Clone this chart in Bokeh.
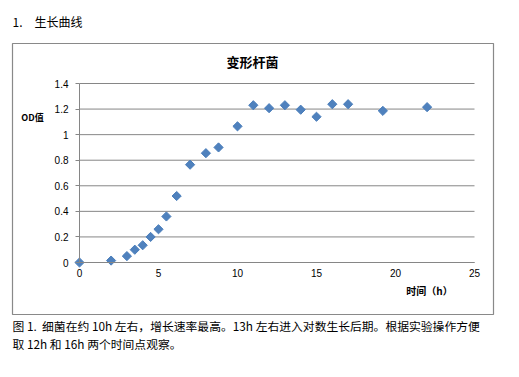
from bokeh.plotting import figure
from bokeh.models import (Range1d, FixedTicker, NumeralTickFormatter, Label, Title,
                          ColumnDataSource)
from bokeh.embed import file_html
from bokeh.resources import INLINE

# ---- data ----
time_h = [0, 2, 3, 3.5, 4, 4.5, 5, 5.5, 6.15, 7, 8, 8.8, 10, 11, 12, 13, 14, 15, 16, 17, 19.2, 22]
od = [0.0, 0.015, 0.05, 0.10, 0.135, 0.20, 0.26, 0.36, 0.52, 0.765, 0.855, 0.90, 1.065,
      1.23, 1.207, 1.23, 1.195, 1.14, 1.238, 1.238, 1.186, 1.215]
x_ticks = [0, 5, 10, 15, 20, 25]
y_ticks = [0, 0.2, 0.4, 0.6, 0.8, 1.0, 1.2, 1.4]
heading = "1.\u3000生长曲线"
chart_title = "变形杆菌"
y_label = "OD值"
x_label = "时间（h）"
caption1 = "图 1.\u00a0\u00a0细菌在约 10h 左右，增长速率最高。13h 左右进入对数生长后期。根据实验操作方便"
caption2 = "取 12h 和 16h 两个时间点观察。"

XMIN, XMAX = x_ticks[0], x_ticks[-1]
YMIN, YMAX = y_ticks[0], y_ticks[-1]

# layout in pixels: chart box and plot area
W, H = 519, 377
BOX_L, BOX_R, BOX_T, BOX_B = 12, 493, 43, 314
PA_L, PA_R, PA_T, PA_B = 79, 474, 83, 262
kx = (PA_R - PA_L) / (XMAX - XMIN)
ky = (PA_B - PA_T) / (YMAX - YMIN)
x_range = Range1d(XMIN - (PA_L - BOX_L) / kx, XMAX + (BOX_R - PA_R) / kx)
y_range = Range1d(YMIN - (BOX_B - PA_B) / ky, YMAX + (PA_T - BOX_T) / ky)

p = figure(width=W, height=H, output_backend="svg", toolbar_location=None,
           x_range=x_range, y_range=y_range,
           min_border_left=BOX_L, min_border_right=W - BOX_R,
           min_border_top=BOX_T, min_border_bottom=H - BOX_B)
p.outline_line_color = "#898989"
p.outline_line_width = 1.2
p.background_fill_color = "white"
p.border_fill_color = "white"
p.xgrid.visible = False
p.ygrid.visible = False

grid_col = "#868686"
# horizontal gridlines across the plot area
p.segment(x0=[XMIN] * len(y_ticks), x1=[XMAX] * len(y_ticks), y0=y_ticks, y1=y_ticks,
          line_color=grid_col, line_width=1)

p.xaxis.ticker = FixedTicker(ticks=x_ticks)
p.yaxis.ticker = FixedTicker(ticks=y_ticks)
p.yaxis.formatter = NumeralTickFormatter(format="0.[0]")
p.xaxis.fixed_location = YMIN
p.yaxis.fixed_location = XMIN
p.xaxis.bounds = (XMIN, XMAX)
p.yaxis.bounds = (YMIN, YMAX)
for ax in (p.xaxis, p.yaxis):
    ax.axis_line_color = grid_col
    ax.major_tick_line_color = grid_col
    ax.minor_tick_line_color = None
    ax.major_label_text_font = "Liberation Sans"
    ax.major_label_text_font_size = "10px"
    ax.major_label_text_color = "black"
p.xaxis.major_tick_out = 0
p.xaxis.major_tick_in = 0
p.xaxis.major_label_standoff = 6
p.yaxis.major_tick_out = 4
p.yaxis.major_tick_in = 0
p.yaxis.major_label_standoff = 7

src = ColumnDataSource(dict(x=time_h, y=od))
p.scatter("x", "y", source=src, marker="square", size=6.5, angle=0.785398,
          fill_color="#4F81BD", line_color="#4A7EBB", line_width=1)

cjk = "Noto Sans CJK SC"
def lab(x, y, text, size, bold=False, align="left"):
    p.add_layout(Label(x=x, y=y, x_units="canvas", y_units="canvas", text=text,
                       text_font=cjk, text_font_size=size,
                       text_font_style="bold" if bold else "normal",
                       text_align=align, text_baseline="middle", text_color="black"))

lab(252, 61, chart_title, "13px", bold=True, align="center")
lab(32, 117, y_label, "9px", bold=True, align="center")
lab(429, 290, x_label, "10px", bold=True, align="center")

p.title.visible = False
p.add_layout(Title(text=heading, align="left", offset=0, standoff=24, vertical_align="top",
                   text_font=cjk, text_font_size="12px", text_font_style="normal",
                   text_color="black"), "above")
p.add_layout(Title(text=caption1, align="left", offset=0, standoff=1,
                   text_font=cjk, text_font_size="11.8px", text_font_style="normal",
                   text_color="black"), "below")
p.add_layout(Title(text=caption2, align="left", offset=0, standoff=-3,
                   text_font=cjk, text_font_size="11.8px", text_font_style="normal",
                   text_color="black"), "below")

open("out.html", "w").write(file_html(p, INLINE))
